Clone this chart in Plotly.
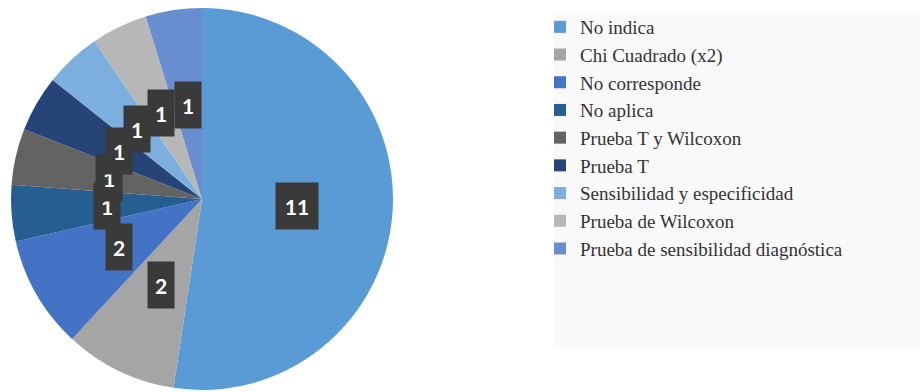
import math
import plotly.graph_objects as go

# ---- data ----
categories = [
    "No indica",
    "Chi Cuadrado (x2)",
    "No corresponde",
    "No aplica",
    "Prueba T y Wilcoxon",
    "Prueba T",
    "Sensibilidad y especificidad",
    "Prueba de Wilcoxon",
    "Prueba de sensibilidad diagnóstica",
]
values = [11, 2, 2, 1, 1, 1, 1, 1, 1]
colors = ["#5b9bd5", "#a5a5a5", "#4472c4", "#255e91", "#636363",
          "#264478", "#7cafdd", "#b7b7b7", "#698ed0"]

W, H = 920, 392
# pie geometry (pixels)
cx, cy, R = 202, 199, 191
dom_x = [(cx - R) / W, (cx + R) / W]
dom_y = [(H - cy - R) / H, (H - cy + R) / H]

SERIF = "Times New Roman, DejaVu Serif, serif"

fig = go.Figure()
fig.add_trace(go.Pie(
    labels=categories,
    values=values,
    marker=dict(colors=colors, line=dict(width=0)),
    sort=False,
    direction="clockwise",
    rotation=0,
    textinfo="none",
    hoverinfo="label+value",
    domain=dict(x=dom_x, y=dom_y),
))

# data labels, placed at half radius along each slice's mid angle
total = sum(values)
cum = 0
annotations = []
for v in values:
    mid = (cum + v / 2) / total * 2 * math.pi
    cum += v
    px = cx + 0.5 * R * math.sin(mid)
    py = cy - 0.5 * R * math.cos(mid)
    txt = str(v)
    annotations.append(dict(
        x=px / W, y=(H - py) / H, xref="paper", yref="paper",
        text="<b>%s</b>" % txt, showarrow=False,
        font=dict(family="Lato", size=21, color="white"),
        bgcolor="#3a3a3a",
        width=22 if len(txt) == 1 else 38, height=42, borderpad=2,
        xanchor="center", yanchor="middle",
    ))

fig.update_layout(
    width=W, height=H,
    margin=dict(l=0, r=0, t=0, b=0),
    paper_bgcolor="white",
    font=dict(family=SERIF),
    showlegend=True,
    legend=dict(
        x=540 / W, y=(H - 8) / H, xanchor="left", yanchor="top",
        bgcolor="rgba(0,0,0,0)",
        font=dict(family=SERIF, size=19, color="#333333"),
        traceorder="normal",
    ),
    shapes=[dict(
        type="rect", xref="paper", yref="paper", layer="below",
        x0=554 / W, x1=1, y0=(H - 348) / H, y1=(H - 13) / H,
        fillcolor="#f9f9f9", line=dict(width=0),
    )],
    annotations=annotations,
)

fig.write_html("out.html")
